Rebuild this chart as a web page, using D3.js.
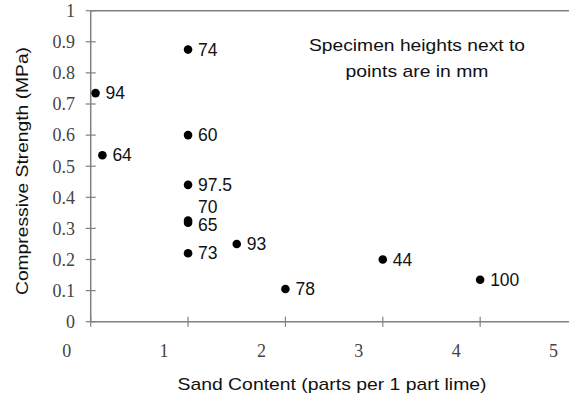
<!DOCTYPE html>
<html>
<head>
<meta charset="utf-8">
<script src="https://cdn.jsdelivr.net/npm/d3@7"></script>
<style>
  body { margin: 0; background: #fff; }
</style>
</head>
<body>
<div id="chart"></div>
<script>
// data
var sand     = [0.05, 0.12, 1, 1, 1, 1, 1, 1, 1.5, 2, 3, 4];
var strength = [0.735, 0.535, 0.875, 0.6, 0.44, 0.325, 0.318, 0.22, 0.25, 0.105, 0.2, 0.135];
var heights  = ["94", "64", "74", "60", "97.5", "70", "65", "73", "93", "78", "44", "100"];
var xTicks = [0, 1, 2, 3, 4, 5];
var yTicks = [0, 0.1, 0.2, 0.3, 0.4, 0.5, 0.6, 0.7, 0.8, 0.9, 1];

var width = 569, height = 400;

var svg = d3.select("#chart")
  .append("svg")
    .attr("width", width)
    .attr("height", height);

var x = d3.scaleLinear().domain([0, 5]).range([90.7, 577.5]);
var y = d3.scaleLinear().domain([0, 1]).range([321.7, 10.7]);

var axisColor = "#808080";

// top frame line
svg.append("line")
  .attr("x1", x(0)).attr("x2", width)
  .attr("y1", y(1)).attr("y2", y(1))
  .attr("stroke", axisColor).attr("stroke-width", 1.5);

// Y axis (ticks crossing the line)
svg.append("line")
  .attr("x1", x(0)).attr("x2", x(0))
  .attr("y1", y(0)).attr("y2", y(1))
  .attr("stroke", axisColor).attr("stroke-width", 1.5);
svg.selectAll(".ytick")
  .data(yTicks)
  .enter().append("line")
    .attr("x1", x(0) - 5).attr("x2", x(0) + 5)
    .attr("y1", function(d) { return y(d); })
    .attr("y2", function(d) { return y(d); })
    .attr("stroke", axisColor).attr("stroke-width", 1.2);
svg.selectAll(".ylab")
  .data(yTicks)
  .enter().append("text")
    .attr("x", 75)
    .attr("y", function(d) { return y(d); })
    .attr("dy", "0.35em")
    .attr("text-anchor", "end")
    .attr("font-family", "Liberation Serif, Times New Roman, serif")
    .attr("font-size", 18)
    .attr("fill", "#444")
    .text(function(d) { return d3.format("")(+d.toFixed(1)); });

// X axis
svg.append("line")
  .attr("x1", x(0)).attr("x2", width)
  .attr("y1", y(0)).attr("y2", y(0))
  .attr("stroke", axisColor).attr("stroke-width", 1.5);
svg.selectAll(".xtick")
  .data(xTicks)
  .enter().append("line")
    .attr("x1", function(d) { return x(d); })
    .attr("x2", function(d) { return x(d); })
    .attr("y1", y(0) - 5).attr("y2", y(0) + 5)
    .attr("stroke", axisColor).attr("stroke-width", 1.2);
// the labels sit left of their ticks, as in the original
svg.selectAll(".xlab")
  .data(xTicks)
  .enter().append("text")
    .attr("x", function(d) { return x(d) - 24; })
    .attr("y", 357)
    .attr("text-anchor", "middle")
    .attr("font-family", "Liberation Serif, Times New Roman, serif")
    .attr("font-size", 18)
    .attr("fill", "#444")
    .text(function(d) { return d; });

// axis titles
svg.append("text")
  .attr("x", 332).attr("y", 390)
  .attr("text-anchor", "middle")
  .attr("font-family", "Liberation Sans, Arial, sans-serif")
  .attr("font-size", 17)
  .attr("textLength", 309).attr("lengthAdjust", "spacingAndGlyphs")
  .attr("fill", "#111")
  .text("Sand Content (parts per 1 part lime)");

svg.append("text")
  .attr("transform", "translate(28,171) rotate(-90)")
  .attr("text-anchor", "middle")
  .attr("font-family", "Liberation Sans, Arial, sans-serif")
  .attr("font-size", 17)
  .attr("textLength", 248).attr("lengthAdjust", "spacingAndGlyphs")
  .attr("fill", "#111")
  .text("Compressive Strength (MPa)");

// note
svg.append("text")
  .attr("x", 417).attr("y", 51)
  .attr("text-anchor", "middle")
  .attr("font-family", "Liberation Sans, Arial, sans-serif")
  .attr("font-size", 17)
  .attr("textLength", 216).attr("lengthAdjust", "spacingAndGlyphs")
  .attr("fill", "#111")
  .text("Specimen heights next to");
svg.append("text")
  .attr("x", 417).attr("y", 77)
  .attr("text-anchor", "middle")
  .attr("font-family", "Liberation Sans, Arial, sans-serif")
  .attr("font-size", 17)
  .attr("textLength", 143).attr("lengthAdjust", "spacingAndGlyphs")
  .attr("fill", "#111")
  .text("points are in mm");

// points
var pts = sand.map(function(s, i) { return {x: s, y: strength[i], label: heights[i]}; });

svg.selectAll(".dot")
  .data(pts)
  .enter().append("circle")
    .attr("cx", function(d) { return x(d.x); })
    .attr("cy", function(d) { return y(d.y); })
    .attr("r", 4.3)
    .attr("fill", "#000");

// "70" and "65" overlap, so 70's label is lifted
svg.selectAll(".plab")
  .data(pts)
  .enter().append("text")
    .attr("x", function(d) { return x(d.x) + 10; })
    .attr("y", function(d) { return y(d.y) + (d.label == "70" ? -14 : (d.label == "65" ? 2 : 0)); })
    .attr("dy", "0.35em")
    .attr("font-family", "Liberation Sans, Arial, sans-serif")
    .attr("font-size", 17.5)
    .attr("fill", "#111")
    .text(function(d) { return d.label; });
</script>
</body>
</html>
